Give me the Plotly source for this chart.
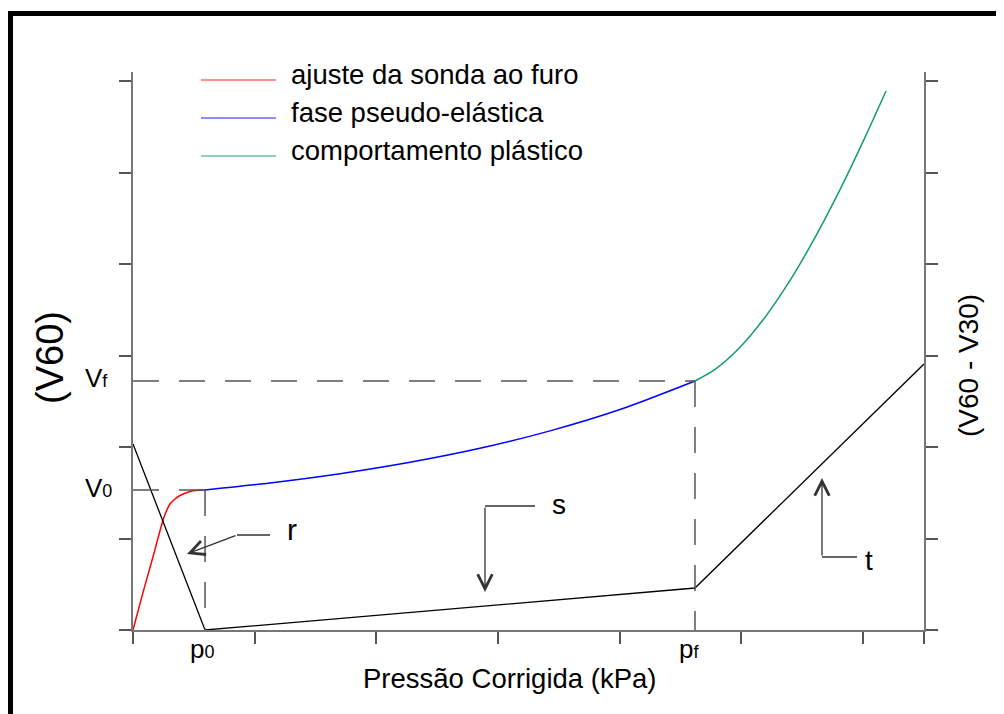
import plotly.graph_objects as go

# curve data (x: pressure, y: volume)
red_x = [0, 0.08, 0.164, 0.247, 0.271, 0.304, 0.345, 0.386, 0.468, 0.534, 0.592]
red_y = [0, 0.40, 0.798, 1.202, 1.290, 1.377, 1.432, 1.470, 1.514, 1.527, 1.530]

blue_x = [0.592, 1.126, 1.701, 2.276, 2.851, 3.427, 4.002, 4.618]
blue_y = [1.530, 1.607, 1.708, 1.833, 1.986, 2.177, 2.410, 2.722]

green_x = [4.618, 4.783, 4.988, 5.193, 5.399, 5.604, 5.810, 6.015, 6.188]
green_y = [2.722, 2.848, 3.090, 3.418, 3.821, 4.290, 4.814, 5.385, 5.892]

creep_x = [0, 0.592, 4.618, 6.5]
creep_y = [2.033, 0, 0.459, 2.907]

names = ["ajuste da sonda ao furo", "fase pseudo-elástica", "comportamento plástico"]
colors = ["#ff0000", "#0000ff", "#129b6e"]

x_ticks = [0, 1, 2, 3, 4, 5, 6, 6.5]
y_ticks = [0, 1, 2, 3, 4, 5, 6]

p0, v0 = red_x[-1], red_y[-1]
pf, vf = blue_x[-1], blue_y[-1]

# plot area in page pixels (the page body adds an 8px offset)
OFF = 8
W, H = 1004 - OFF, 714 - OFF
L, R, T, B = 133, 924, 72, 630
XMAX, YMAX = 6.5, 6.1


def gx(px):
    return (px - L) / (R - L) * XMAX


def gy(py):
    return (B - py) / (B - T) * YMAX


def paper_x(px):
    return (px - L) / (R - L)


def paper_y(py):
    return (B - py) / (B - T)


FONT = "Liberation Sans, Arial, sans-serif"

fig = go.Figure()
for xs, ys, c in zip([red_x, blue_x, green_x], [red_y, blue_y, green_y], colors):
    fig.add_trace(go.Scatter(x=xs, y=ys, mode="lines", line=dict(color=c, width=1.5, shape="spline", smoothing=0.8),
                             showlegend=False, hoverinfo="skip"))
fig.add_trace(go.Scatter(x=creep_x, y=creep_y, mode="lines", line=dict(color="black", width=1.3),
                         yaxis="y2", showlegend=False, hoverinfo="skip", cliponaxis=False))

dash = dict(color="#555", width=1.5, dash="26px,20px")
lead = dict(color="#333", width=1.3)
shapes = [
    dict(type="line", x0=0, x1=pf, y0=vf, y1=vf, line=dash),
    dict(type="line", x0=pf, x1=pf, y0=vf, y1=0, line=dash),
    dict(type="line", x0=0, x1=p0, y0=v0, y1=v0, line=dash),
    dict(type="line", x0=p0, x1=p0, y0=v0, y1=0, line=dash),
    # annotation leader lines
    dict(type="line", x0=gx(270), x1=gx(237), y0=gy(535), y1=gy(535), line=lead),
    dict(type="line", x0=gx(485), x1=gx(535), y0=gy(506), y1=gy(506), line=lead),
    dict(type="line", x0=gx(822), x1=gx(857), y0=gy(557), y1=gy(557), line=lead),
    # outer frame
    dict(type="rect", xref="paper", yref="paper", x0=paper_x(10.5), x1=paper_x(1001.5),
         y0=paper_y(730), y1=paper_y(13.5), line=dict(color="black", width=5)),
]

# legend drawn by hand (long sample lines)
annotations = []
for i, (n, c) in enumerate(zip(names, colors)):
    yy = [80, 118, 156][i]
    shapes.append(dict(type="line", x0=gx(201), x1=gx(276), y0=gy(yy), y1=gy(yy),
                       line=dict(color=c, width=1.5), opacity=0.6))
    annotations.append(dict(x=gx(289), y=gy(yy - 6), text=n, showarrow=False, xanchor="left",
                            yanchor="middle", font=dict(size=27.5)))


def page_text(px, py, text, size=26, angle=0, xanchor="center"):
    return dict(xref="paper", yref="paper", x=paper_x(px), y=paper_y(py), text=text, showarrow=False,
                xanchor=xanchor, yanchor="middle", textangle=angle, font=dict(size=size))


sub = "<span style='font-size:18px'>%s</span>"
annotations += [
    page_text(83, 488, "V" + sub % "0", xanchor="left"),
    page_text(83, 378, "V" + sub % "f", xanchor="left"),
    page_text(188, 649, "p" + sub % "0", xanchor="left"),
    page_text(677, 649, "p" + sub % "f", xanchor="left"),
    page_text(509, 678, "Pressão Corrigida (kPa)", size=27.5),
    page_text(50, 358, "(V60)", size=38, angle=-90),
    page_text(968, 366, "(V60 - V30)", size=28, angle=-90),
    dict(x=gx(292), y=gy(529), text="r", showarrow=False, font=dict(size=30)),
    dict(x=gx(559), y=gy(504), text="s", showarrow=False, font=dict(size=28)),
    dict(x=gx(869), y=gy(560), text="t", showarrow=False, font=dict(size=28)),
]
arrow = dict(text="", showarrow=True, arrowhead=5, arrowsize=2.2, arrowwidth=1.3, arrowcolor="#333",
             axref="x", ayref="y")
annotations += [
    dict(arrow, x=gx(187), y=gy(554), ax=gx(237), ay=gy(535)),
    dict(arrow, x=gx(485), y=gy(592), ax=gx(485), ay=gy(506)),
    dict(arrow, x=gx(822), y=gy(478), ax=gx(822), ay=gy(557)),
]

axis_common = dict(showgrid=False, zeroline=False, showline=True, linecolor="#777", linewidth=2,
                   ticks="outside", ticklen=12, tickwidth=2, tickcolor="#555", showticklabels=False)
fig.update_layout(
    width=W, height=H,
    margin=dict(l=L - OFF, r=W - (R - OFF), t=T - OFF, b=H - (B - OFF)),
    paper_bgcolor="white", plot_bgcolor="white",
    font=dict(family=FONT, size=26, color="black"),
    xaxis=dict(axis_common, range=[0, XMAX], tickvals=x_ticks),
    yaxis=dict(axis_common, range=[0, YMAX], tickvals=y_ticks),
    yaxis2=dict(axis_common, range=[0, YMAX], tickvals=y_ticks, overlaying="y", side="right"),
    shapes=shapes,
    annotations=annotations,
    showlegend=False,
)

fig.write_html("out.html")
